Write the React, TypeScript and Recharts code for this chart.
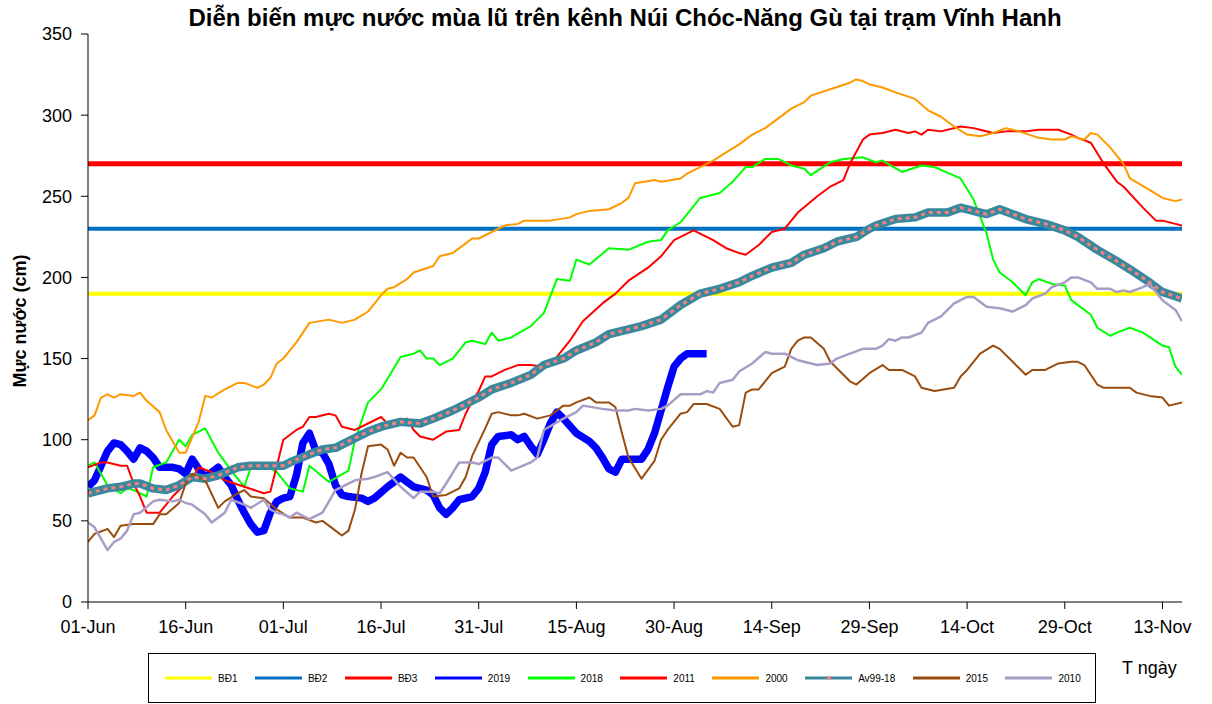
import React from 'react';
import { LineChart, Line, XAxis, YAxis } from 'recharts';

type Pt = [number, number];

// day index from 01-Jun
const tickDays = [0, 15, 30, 45, 60, 75, 90, 105, 120, 135, 150, 165];
const tickLabels = ['01-Jun', '16-Jun', '01-Jul', '16-Jul', '31-Jul', '15-Aug', '30-Aug', '14-Sep', '29-Sep', '14-Oct', '29-Oct', '13-Nov'];
const yTicks = [0, 50, 100, 150, 200, 250, 300, 350];

const bd1: Pt[] = [[0, 190], [168, 190]];
const bd2: Pt[] = [[0, 230], [168, 230]];
const bd3: Pt[] = [[0, 270], [168, 270]];

const y2019: Pt[] = [
  [0, 71], [1, 75], [2, 84], [3, 93], [4, 98], [5, 97], [6, 93], [7, 88], [8, 95], [9, 93], [10, 89], [11, 83],
  [13, 83], [14, 82], [15, 79], [16, 88], [17, 82], [18, 77], [19, 80], [20, 83], [21, 77], [22, 72], [23, 63],
  [24, 55], [25, 48], [26, 43], [27, 44], [28, 55], [29, 62], [30, 64], [31, 65], [32, 78], [33, 98], [34, 104],
  [35, 93], [36, 92], [37, 85], [38, 72], [39, 66], [40, 65], [42, 64], [43, 62], [44, 64], [46, 71], [47, 74],
  [48, 77], [49, 74], [50, 71], [52, 69], [53, 66], [54, 58], [55, 54], [56, 58], [57, 63], [59, 65], [60, 70],
  [61, 80], [62, 97], [63, 102], [65, 103], [66, 100], [67, 102], [68, 96], [69, 91], [70, 100], [71, 110],
  [72, 117], [73, 113], [75, 104], [77, 99], [78, 95], [79, 89], [80, 82], [81, 80], [82, 88], [85, 88],
  [86, 94], [87, 104], [88, 118], [89, 132], [90, 145], [91, 150], [92, 153], [93, 153], [95, 153],
];

const y2018: Pt[] = [
  [0, 84], [1, 86], [3, 72], [5, 67], [6, 70], [7, 69], [9, 65], [10, 83], [12, 86], [14, 100], [15, 96],
  [16, 103], [18, 107], [20, 92], [22, 81], [24, 71], [25, 83], [27, 85], [29, 80], [31, 70], [33, 68],
  [34, 84], [37, 74], [40, 81], [41, 100], [43, 123], [45, 131], [48, 151], [50, 153], [51, 155], [52, 150],
  [53, 150], [54, 146], [56, 150], [58, 160], [59, 161], [61, 159], [62, 166], [63, 161], [65, 163], [68, 170],
  [70, 178], [72, 199], [74, 198], [75, 211], [77, 208], [80, 218], [83, 217], [86, 222], [88, 223], [89, 229],
  [91, 234], [94, 249], [97, 252], [99, 259], [101, 268], [102, 268], [104, 273], [106, 273], [108, 269],
  [110, 267], [111, 263], [114, 271], [116, 273], [119, 274], [121, 271], [122, 272], [125, 265], [128, 269],
  [130, 268], [134, 261], [136, 248], [138, 227], [139, 211], [140, 203], [142, 197], [144, 189], [145, 197],
  [146, 199], [148, 196], [150, 195], [151, 186], [154, 177], [155, 169], [157, 164], [158, 166], [160, 169],
  [162, 166], [165, 158], [166, 157], [167, 145], [168, 140],
];

const y2011: Pt[] = [
  [0, 83], [2, 86], [3, 86], [5, 84], [6, 84], [7, 73], [8, 65], [9, 55], [11, 55], [13, 65], [14, 69],
  [16, 76], [17, 83], [19, 80], [21, 75], [24, 71], [27, 67], [28, 68], [29, 84], [30, 100], [32, 106],
  [33, 108], [34, 114], [35, 114], [37, 116], [38, 115], [39, 108], [41, 106], [43, 110], [45, 114], [46, 110],
  [49, 113], [50, 106], [51, 102], [53, 100], [55, 105], [57, 106], [58, 116], [59, 124], [60, 130], [61, 139],
  [62, 139], [64, 143], [66, 146], [68, 146], [70, 145], [72, 151], [74, 161], [76, 173], [79, 184], [81, 190],
  [83, 198], [86, 206], [88, 213], [90, 223], [93, 229], [96, 223], [98, 218], [100, 215], [101, 214],
  [103, 220], [105, 228], [107, 230], [109, 240], [112, 250], [114, 256], [116, 260], [117, 270], [119, 285],
  [120, 288], [122, 289], [124, 291], [126, 289], [127, 290], [128, 288], [129, 291], [131, 290], [134, 293],
  [136, 292], [137, 291], [139, 289], [141, 290], [144, 290], [146, 291], [149, 291], [151, 288], [152, 286],
  [154, 283], [156, 270], [158, 259], [159, 256], [162, 243], [164, 235], [165, 235], [167, 233], [168, 232],
];

const y2000: Pt[] = [
  [0, 112], [1, 115], [2, 126], [3, 128], [4, 126], [5, 128], [7, 127], [8, 129], [9, 124], [11, 117],
  [12, 106], [14, 92], [15, 92], [17, 111], [18, 127], [19, 126], [21, 131], [23, 135], [24, 135], [26, 132],
  [27, 134], [28, 138], [29, 147], [30, 150], [31, 155], [32, 160], [33, 166], [34, 172], [37, 174], [39, 172],
  [41, 174], [43, 179], [45, 189], [46, 193], [47, 194], [49, 199], [50, 203], [53, 207], [54, 213], [56, 215],
  [58, 221], [59, 224], [60, 224], [62, 228], [64, 232], [66, 233], [67, 235], [71, 235], [74, 237], [75, 239],
  [77, 241], [80, 242], [82, 246], [83, 249], [84, 258], [87, 260], [88, 259], [91, 261], [92, 264], [94, 268],
  [96, 272], [98, 277], [100, 282], [102, 288], [104, 292], [106, 298], [108, 304], [110, 308], [111, 312],
  [114, 316], [117, 320], [118, 322], [119, 321], [120, 319], [122, 317], [124, 314], [127, 310], [129, 303],
  [131, 299], [133, 293], [135, 288], [137, 287], [139, 289], [141, 292], [143, 290], [146, 286], [148, 285],
  [150, 285], [151, 287], [153, 285], [154, 289], [155, 288], [157, 280], [159, 270], [160, 261], [163, 254],
  [165, 249], [167, 247], [168, 248],
];

const av9918: Pt[] = [
  [0, 67], [3, 70], [5, 71], [7, 73], [8, 73], [10, 70], [12, 69], [14, 72], [16, 77], [18, 76], [20, 78],
  [23, 83], [25, 84], [28, 84], [30, 84], [31, 86], [34, 91], [36, 94], [38, 95], [40, 99], [43, 105],
  [45, 108], [48, 111], [51, 110], [53, 113], [56, 118], [59, 124], [60, 126], [62, 131], [65, 135], [68, 140],
  [70, 146], [73, 150], [75, 155], [78, 160], [80, 165], [83, 168], [85, 170], [88, 174], [91, 183], [94, 190],
  [97, 193], [100, 197], [102, 201], [105, 206], [108, 209], [110, 214], [113, 218], [115, 222], [118, 225],
  [120, 230], [121, 232], [124, 236], [127, 237], [129, 240], [132, 240], [134, 243], [137, 240], [138, 239],
  [140, 242], [142, 239], [144, 236], [147, 233], [150, 229], [152, 225], [155, 217], [158, 210], [160, 205],
  [163, 197], [165, 191], [168, 187],
];

const y2015: Pt[] = [
  [0, 37], [1, 42], [3, 45], [4, 40], [5, 47], [7, 48], [10, 48], [11, 54], [12, 54], [14, 61], [15, 73],
  [16, 79], [18, 75], [20, 58], [21, 62], [23, 67], [24, 69], [25, 65], [27, 64], [29, 57], [31, 52], [33, 52],
  [35, 49], [36, 50], [38, 44], [39, 41], [40, 44], [41, 57], [42, 79], [43, 96], [45, 97], [46, 94], [47, 84],
  [48, 92], [49, 89], [50, 89], [52, 77], [53, 65], [55, 66], [57, 70], [58, 77], [59, 90], [61, 107],
  [62, 116], [63, 117], [65, 115], [66, 115], [67, 116], [69, 113], [71, 115], [73, 121], [74, 121], [75, 123],
  [77, 126], [78, 123], [80, 123], [81, 120], [82, 104], [83, 89], [85, 76], [87, 87], [88, 100], [89, 106],
  [91, 116], [92, 117], [93, 122], [95, 122], [97, 119], [99, 108], [100, 109], [101, 129], [102, 131],
  [103, 131], [105, 141], [107, 145], [108, 156], [109, 161], [110, 163], [111, 163], [113, 156], [114, 148],
  [116, 140], [117, 136], [118, 134], [120, 141], [122, 146], [123, 143], [125, 143], [127, 139], [128, 132],
  [130, 130], [133, 132], [134, 139], [135, 143], [137, 153], [139, 158], [140, 156], [142, 148], [144, 140],
  [145, 143], [147, 143], [149, 147], [151, 148], [152, 148], [153, 146], [155, 134], [156, 132], [160, 132],
  [161, 129], [163, 127], [165, 126], [166, 121], [168, 123],
];

const y2010: Pt[] = [
  [0, 49], [1, 46], [3, 32], [4, 37], [5, 39], [6, 44], [7, 54], [8, 55], [10, 62], [11, 63], [13, 62],
  [14, 63], [15, 61], [16, 60], [18, 54], [19, 49], [21, 55], [22, 63], [24, 60], [25, 58], [27, 63], [28, 57],
  [29, 55], [30, 54], [31, 52], [32, 55], [34, 51], [36, 55], [38, 69], [40, 73], [41, 75], [43, 76], [44, 77],
  [46, 80], [48, 71], [50, 64], [51, 68], [53, 68], [54, 67], [55, 73], [57, 86], [59, 86], [60, 85], [62, 89],
  [63, 89], [65, 81], [68, 86], [69, 89], [70, 106], [73, 113], [75, 117], [76, 121], [79, 119], [81, 118],
  [83, 118], [84, 119], [86, 118], [88, 119], [89, 121], [91, 128], [94, 128], [95, 130], [96, 129], [97, 135],
  [99, 137], [100, 142], [102, 147], [104, 154], [105, 153], [107, 153], [109, 149], [112, 146], [114, 147],
  [115, 150], [117, 153], [119, 156], [121, 156], [122, 158], [123, 162], [124, 161], [125, 163], [126, 163],
  [128, 166], [129, 172], [131, 176], [133, 184], [135, 188], [136, 188], [138, 182], [140, 181], [142, 179],
  [144, 183], [145, 187], [147, 190], [148, 194], [150, 197], [151, 200], [152, 200], [154, 197], [155, 193],
  [157, 193], [158, 191], [159, 192], [160, 191], [162, 194], [163, 196], [164, 191], [165, 186], [167, 180],
  [168, 173],
];

const rows = (pts: Pt[]) => pts.map(([d, v]) => ({ d, v }));

const FONT = 'Arial, "Liberation Sans", sans-serif';
const AV_TEAL = '#3A889E';
const AV_PINK = '#F4837D';

const series = [
  { name: 'BĐ1', data: bd1, color: '#FFFF00', width: 4 },
  { name: 'BĐ2', data: bd2, color: '#0070C0', width: 4 },
  { name: 'BĐ3', data: bd3, color: '#FF0000', width: 5 },
  { name: '2019', data: y2019, color: '#0000FF', width: 7.5 },
  { name: '2018', data: y2018, color: '#00FF00', width: 2 },
  { name: '2011', data: y2011, color: '#FF0000', width: 2 },
  { name: '2000', data: y2000, color: '#FF9900', width: 2 },
  { name: 'Av99-18', data: av9918, color: AV_TEAL, width: 8.5 },
  { name: '2015', data: y2015, color: '#994C0F', width: 2 },
  { name: '2010', data: y2010, color: '#A99DC6', width: 2.5 },
];

const LegendIcon = ({ color, name }: { color: string; name: string }) => (
  <svg width={47} height={6} style={{ display: 'block' }}>
    <line x1={0} y1={3} x2={47} y2={3} stroke={color} strokeWidth={3} />
    {name === 'Av99-18' && <line x1={22} y1={3} x2={26} y2={3} stroke={AV_PINK} strokeWidth={3} />}
  </svg>
);

const tickStyle = { fontSize: 18, fill: '#000', fontFamily: FONT };

export default function App() {
  return (
    <div style={{ position: 'absolute', left: 0, top: 0, width: 1212, height: 704, background: '#fff', fontFamily: FONT }}>
      <div style={{ position: 'absolute', left: 625, top: 5, lineHeight: '26px', transform: 'translateX(-50%)', whiteSpace: 'nowrap', fontWeight: 'bold', fontSize: 24 }}>
        Diễn biến mực nước mùa lũ trên kênh Núi Chóc-Năng Gù tại trạm Vĩnh Hanh
      </div>
      <div style={{ position: 'absolute', left: 20, top: 321, lineHeight: 1, transform: 'translate(-50%, -50%) rotate(-90deg)', whiteSpace: 'nowrap', fontWeight: 'bold', fontSize: 18 }}>
        Mực nước (cm)
      </div>
      <LineChart width={1212} height={704} margin={{ top: 34, right: 30, left: 28, bottom: 72 }} style={{ position: 'absolute', left: 0, top: 0 }}>
        <XAxis
          type="number"
          dataKey="d"
          domain={[0, 168]}
          ticks={tickDays}
          tickFormatter={(v: number) => tickLabels[tickDays.indexOf(v)]}
          tick={tickStyle}
          tickSize={7}
          tickMargin={11}
          stroke="#000"
          allowDataOverflow
        />
        <YAxis
          type="number"
          domain={[0, 350]}
          ticks={yTicks}
          width={60}
          tick={tickStyle}
          tickSize={7}
          tickMargin={9}
          stroke="#000"
        />
        {series.map((s) => (
          <Line
            key={s.name}
            data={rows(s.data)}
            dataKey="v"
            name={s.name}
            type="linear"
            stroke={s.color}
            strokeWidth={s.width}
            dot={false}
            activeDot={false}
            isAnimationActive={false}
            strokeLinejoin="round"
          />
        ))}
        <Line
          data={rows(av9918)}
          dataKey="v"
          name="Av99-18 dash"
          type="linear"
          stroke={AV_PINK}
          strokeWidth={3}
          strokeDasharray="4 4"
          dot={false}
          activeDot={false}
          isAnimationActive={false}
        />
      </LineChart>
      <div style={{ position: 'absolute', left: 148, top: 653, width: 948, height: 50, border: '1px solid #000', boxSizing: 'border-box', display: 'flex', alignItems: 'center', paddingLeft: 16, fontSize: 10, whiteSpace: 'nowrap' }}>
        {series.map((s) => (
          <div key={s.name} style={{ display: 'flex', alignItems: 'center', marginRight: 17.5 }}>
            <LegendIcon color={s.color} name={s.name} />
            <span style={{ marginLeft: 6 }}>{s.name}</span>
          </div>
        ))}
      </div>
      <div style={{ position: 'absolute', left: 1122, top: 659, lineHeight: 1, fontSize: 18, whiteSpace: 'nowrap' }}>T ngày</div>
    </div>
  );
}
